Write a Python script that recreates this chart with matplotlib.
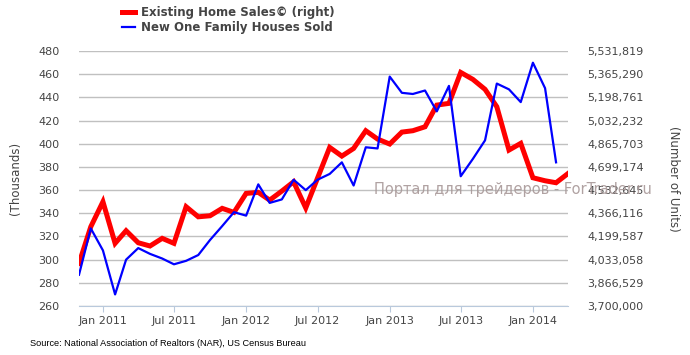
import numpy as np
import pandas as pd
import matplotlib
matplotlib.use("Agg")
import matplotlib.pyplot as plt
import matplotlib.dates as mdates
from matplotlib.ticker import FuncFormatter
from matplotlib.lines import Line2D

# monthly data, Nov 2010 .. Apr 2014
months_existing = pd.date_range("2010-11-01", periods=42, freq="MS")
months_new = pd.date_range("2010-11-01", periods=41, freq="MS")

# Existing Home Sales (right axis, number of units)
existing_sales = [
    4006000, 4269500, 4449400, 4150500, 4241200, 4154600, 4131300, 4186300,
    4150500, 4413600, 4341100, 4348600, 4401900, 4372800, 4509300, 4516800,
    4461000, 4526000, 4592600, 4405000, 4619200, 4839900, 4777400, 4832400,
    4959800, 4899800, 4864000, 4949800, 4959800, 4988100, 5143800, 5156300,
    5378600, 5328700, 5257000, 5132100, 4820700, 4869000, 4621700, 4600100,
    4585900, 4653400,
]

# New One Family Houses Sold (left axis, thousands)
new_houses = [
    287, 327, 308, 270, 300, 310, 305, 301, 296, 299, 304, 317,
    329, 341, 338, 365, 349, 352, 369, 360, 369, 374, 384, 364,
    397, 396, 458, 444, 443, 446, 428, 450, 372, 387, 403, 452,
    447, 436, 470, 448, 384,
]

left_ticks = list(range(260, 481, 20))
right_min = 3700000
right_max = 5531819

fig = plt.figure(figsize=(6.9, 3.55), dpi=100)
ax2 = fig.add_axes([0.1145, 0.138, 0.709, 0.718])
ax = ax2.twinx()

text_color = "#444444"
axis_color = "#b9c9dc"

# red series on the right axis, with the grid
ax2.plot(months_existing, existing_sales, color="#ff0000", lw=3.6, solid_joinstyle="miter")
ax2.set_ylim(right_min, right_max)
ax2.set_yticks(np.linspace(right_min, right_max, 12))
ax2.yaxis.set_major_formatter(FuncFormatter(lambda v, p: "{:,.0f}".format(round(v))))
ax2.yaxis.tick_right()
ax2.yaxis.set_label_position("right")
ax2.grid(axis="y", color="#c0c0c0", lw=1)
ax2.set_axisbelow(True)
ax2.set_ylabel("(Number of Units)", rotation=270, labelpad=26, color=text_color, fontsize=8.5)

# blue series on the left axis, drawn on top
ax.set_zorder(ax2.get_zorder() + 1)
ax.patch.set_visible(False)
ax.plot(months_new, new_houses, color="#0000ff", lw=1.6)
ax.set_ylim(260, 480)
ax.set_yticks(left_ticks)
ax.yaxis.tick_left()
ax.yaxis.set_label_position("left")
ax.set_ylabel("(Thousands)", color=text_color, fontsize=8.5, labelpad=12)

for a in (ax, ax2):
    for s in a.spines.values():
        s.set_visible(False)
    a.tick_params(axis="y", length=0, labelsize=8, labelcolor=text_color)
ax.tick_params(axis="y", pad=14)
ax2.tick_params(axis="y", pad=14)

ax2.spines["bottom"].set_visible(True)
ax2.spines["bottom"].set_color(axis_color)
ax2.set_xlim(months_existing[0], months_existing[-1])
ax2.xaxis.set_major_locator(mdates.MonthLocator(bymonth=[1, 7]))
ax2.xaxis.set_major_formatter(mdates.DateFormatter("%b %Y"))
ax2.tick_params(axis="x", length=4, color=axis_color, labelsize=8, labelcolor=text_color, pad=3)
ax.tick_params(axis="x", length=0, labelbottom=False)

handles = [
    Line2D([], [], color="#ff0000", lw=3.6),
    Line2D([], [], color="#0000ff", lw=1.6),
]
fig.legend(handles, ["Existing Home Sales\u00a9 (right)", "New One Family Houses Sold"],
           loc="upper left", bbox_to_anchor=(0.162, 1.012), frameon=False,
           handlelength=1.1, handletextpad=0.5, labelspacing=0.12,
           prop={"weight": "bold", "size": 8.5}, labelcolor=text_color)

fig.text(0.043, 0.025, "Source: National Association of Realtors (NAR), US Census Bureau",
         fontsize=6.6, family="Liberation Sans", color="#000000")

fig.text(0.542, 0.466, "Портал для трейдеров - ForTrader.ru", fontsize=10.5,
         color="#a89898", alpha=0.9, va="center", ha="left", zorder=10)

fig.savefig("out.png", dpi=100)
